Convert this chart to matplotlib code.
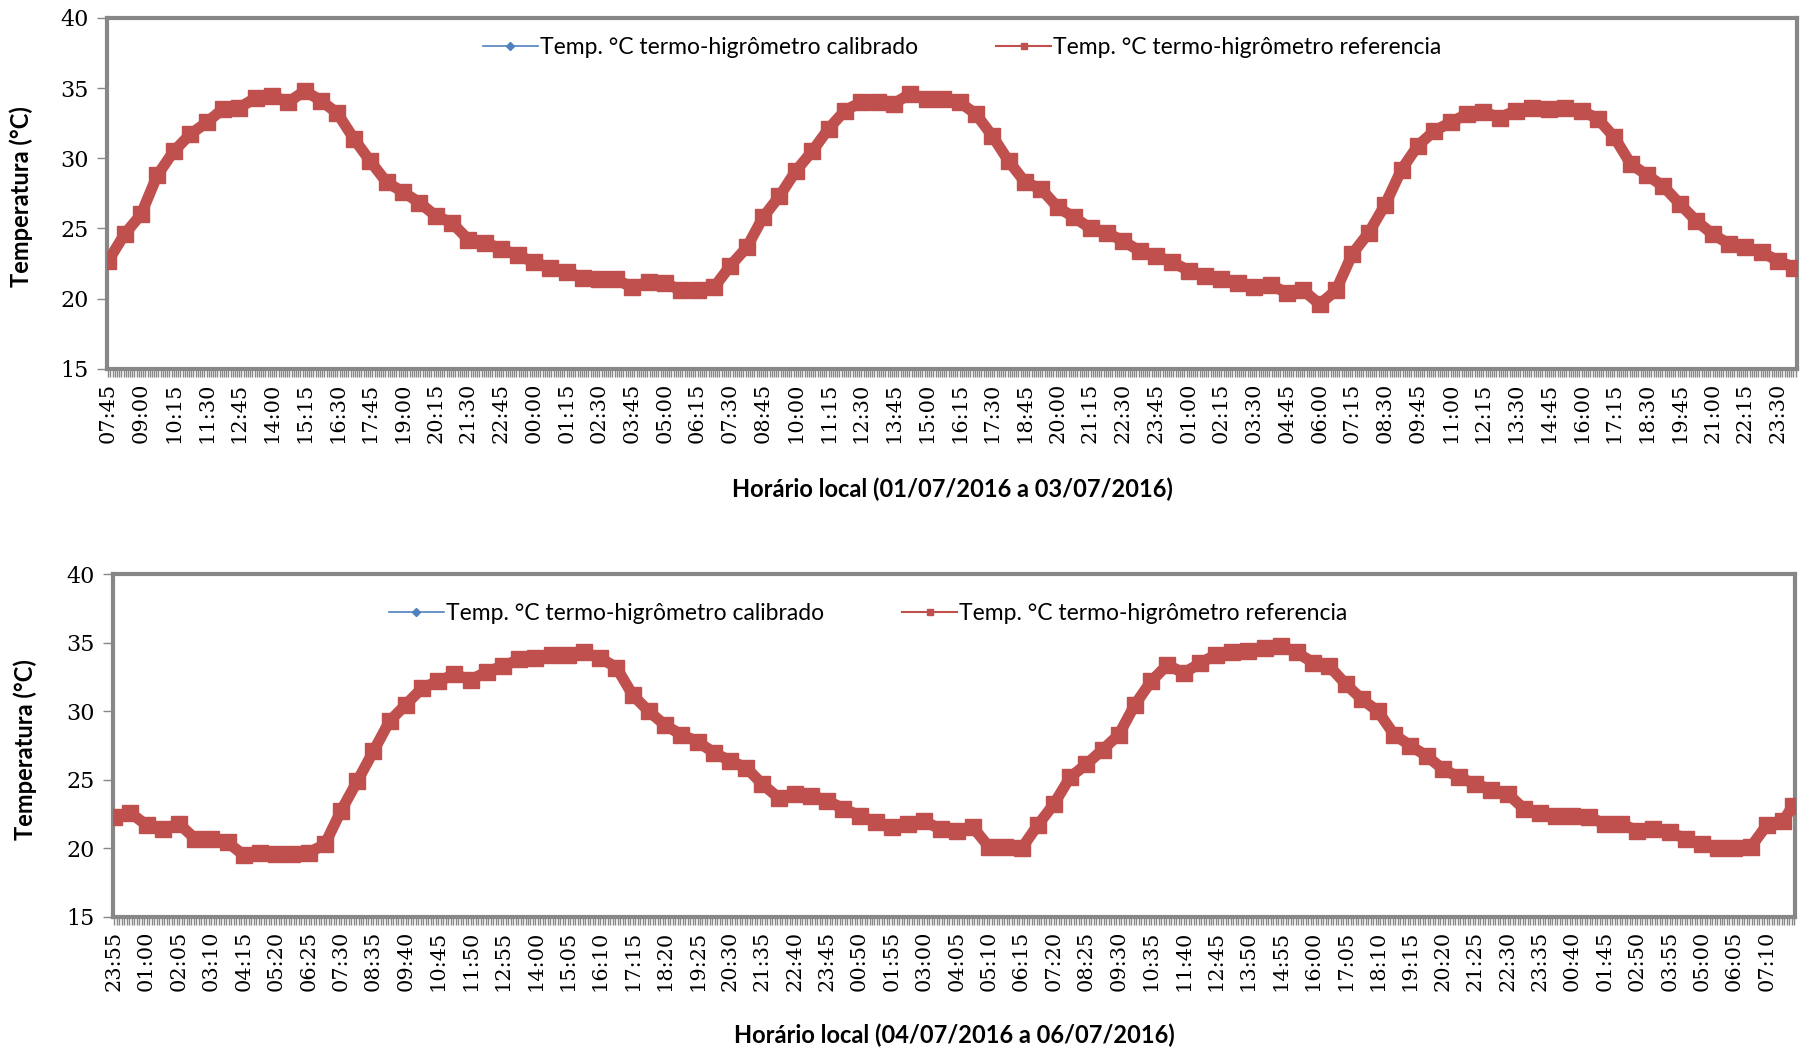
import numpy as np
import matplotlib.pyplot as plt
from matplotlib.lines import Line2D
from matplotlib.ticker import MultipleLocator

# ---- data (two readings per labelled interval) ----
# top panel: labels every 75 min, starting 07:45 on 01/07/2016
labels_top = ["07:45", "09:00", "10:15", "11:30", "12:45", "14:00", "15:15", "16:30", "17:45",
              "19:00", "20:15", "21:30", "22:45", "00:00", "01:15", "02:30", "03:45", "05:00",
              "06:15", "07:30", "08:45", "10:00", "11:15", "12:30", "13:45", "15:00", "16:15",
              "17:30", "18:45", "20:00", "21:15", "22:30", "23:45", "01:00", "02:15", "03:30",
              "04:45", "06:00", "07:15", "08:30", "09:45", "11:00", "12:15", "13:30", "14:45",
              "16:00", "17:15", "18:30", "19:45", "21:00", "22:15", "23:30"]
ref_top = [22.7, 24.6, 26.0, 28.8, 30.5, 31.7, 32.55, 33.5, 33.6, 34.3,
           34.45, 34.0, 34.8, 34.1, 33.2, 31.4, 29.8, 28.3, 27.6, 26.85,
           25.9, 25.4, 24.2, 24.0, 23.55, 23.1, 22.6, 22.2, 21.9, 21.5,
           21.4, 21.4, 20.8, 21.2, 21.1, 20.6, 20.6, 20.8, 22.35, 23.65,
           25.8, 27.3, 29.1, 30.5, 32.1, 33.4, 34.0, 34.0, 33.9, 34.6,
           34.2, 34.2, 34.0, 33.15, 31.6, 29.8, 28.3, 27.8, 26.5, 25.8,
           25.0, 24.7, 24.1, 23.4, 23.05, 22.6, 22.0, 21.6, 21.4, 21.15,
           20.8, 21.0, 20.4, 20.6, 19.6, 20.6, 23.2, 24.7, 26.7, 29.2,
           30.9, 31.95, 32.55, 33.15, 33.3, 32.9, 33.4, 33.6, 33.5, 33.6,
           33.4, 32.8, 31.5, 29.6, 28.8, 28.0, 26.75, 25.55, 24.6, 23.9,
           23.65, 23.3, 22.7, 22.2]
cal_top = list(ref_top)  # calibrated logger lies under the reference curve

# bottom panel: labels every 65 min, starting 23:55 on 04/07/2016
labels_bot = ["23:55", "01:00", "02:05", "03:10", "04:15", "05:20", "06:25", "07:30", "08:35",
              "09:40", "10:45", "11:50", "12:55", "14:00", "15:05", "16:10", "17:15", "18:20",
              "19:25", "20:30", "21:35", "22:40", "23:45", "00:50", "01:55", "03:00", "04:05",
              "05:10", "06:15", "07:20", "08:25", "09:30", "10:35", "11:40", "12:45", "13:50",
              "14:55", "16:00", "17:05", "18:10", "19:15", "20:20", "21:25", "22:30", "23:35",
              "00:40", "01:45", "02:50", "03:55", "05:00", "06:05", "07:10"]
ref_bot = [22.3, 22.6, 21.7, 21.4, 21.8, 20.7, 20.7, 20.45, 19.5, 19.7,
           19.6, 19.6, 19.7, 20.3, 22.75, 24.9, 27.1, 29.3, 30.5, 31.7,
           32.2, 32.7, 32.3, 32.9, 33.3, 33.8, 33.9, 34.15, 34.15, 34.3,
           33.9, 33.2, 31.2, 30.0, 29.0, 28.3, 27.8, 27.0, 26.4, 25.9,
           24.7, 23.7, 24.0, 23.85, 23.5, 22.9, 22.4, 21.9, 21.55, 21.8,
           22.0, 21.4, 21.3, 21.55, 20.1, 20.1, 20.0, 21.7, 23.25, 25.2,
           26.15, 27.2, 28.3, 30.5, 32.2, 33.4, 32.8, 33.5, 34.15, 34.3,
           34.4, 34.6, 34.8, 34.3, 33.55, 33.3, 32.0, 30.9, 30.0, 28.3,
           27.5, 26.75, 25.8, 25.2, 24.7, 24.3, 24.0, 22.9, 22.6, 22.4,
           22.4, 22.3, 21.8, 21.8, 21.3, 21.4, 21.2, 20.7, 20.3, 20.0,
           20.0, 20.1, 21.7, 22.0, 23.1]
cal_bot = list(ref_bot)

pos_top = np.arange(len(ref_top)) * 0.5
pos_bot = np.append(np.arange(len(ref_bot) - 1) * 0.5, 51.8)

xlabel_top = "Horário local (01/07/2016 a 03/07/2016)"
xlabel_bot = "Horário local (04/07/2016 a 06/07/2016)"
name_cal = "Temp. °C termo-higrômetro calibrado"
name_ref = "Temp. °C termo-higrômetro referencia"

RED = "#C0504D"
BLUE = "#4F81BD"
GREY = "#878787"

fig = plt.figure(figsize=(18.01, 10.51), dpi=100)
ax1 = fig.add_axes([0.0594, 0.649, 0.9384, 0.334])
ax2 = fig.add_axes([0.0627, 0.1275, 0.934, 0.326])


def draw_panel(ax, pos, cal, ref, labels, n_minor, xmax, xlabel, leg_x, leg_y, ylab_x):
    ax.plot(pos, cal, color=BLUE, lw=3, marker='D', ms=6, zorder=2)
    ax.plot(pos, ref, color=RED, lw=8, marker='s', ms=11, zorder=3)
    ax.set_ylim(15, 40)
    ax.set_xlim(-0.04, xmax)
    ax.set_yticks([15, 20, 25, 30, 35, 40])
    ax.set_xticks(np.arange(len(labels)))
    ax.set_xticklabels(labels, rotation=90, family='DejaVu Serif', fontsize=15)
    ax.xaxis.set_minor_locator(MultipleLocator(1.0 / n_minor))
    for lab in ax.get_yticklabels():
        lab.set_family('DejaVu Serif')
        lab.set_fontsize(16)
    ax.tick_params(axis='x', which='both', direction='out', length=6, width=1, color=GREY, pad=4)
    ax.tick_params(axis='y', direction='out', length=7, width=1, color=GREY, pad=6)
    for sp in ax.spines.values():
        sp.set_color(GREY)
        sp.set_linewidth(3)
    ax.set_ylabel("Temperatura (°C)", family='Lato', fontweight='bold', fontsize=17)
    ax.yaxis.set_label_coords(ylab_x, 0.49)
    ax.set_xlabel(xlabel, family='Lato', fontweight='bold', fontsize=17)
    ax.xaxis.set_label_coords(0.5, -0.31)
    h_cal = Line2D([], [], color=BLUE, lw=1.2, marker='D', ms=4)
    h_ref = Line2D([], [], color=RED, lw=1.5, marker='s', ms=5)
    ax.legend([h_cal, h_ref], [name_cal, name_ref], ncol=2, frameon=False,
              loc='center', bbox_to_anchor=(leg_x, leg_y), prop={'family': 'Lato', 'size': 16.5},
              handlelength=2.4, handletextpad=0.1, columnspacing=3.4)


draw_panel(ax1, pos_top, cal_top, ref_top, labels_top, 15, 51.58, xlabel_top, 0.506, 0.915, -0.044)
draw_panel(ax2, pos_bot, cal_bot, ref_bot, labels_bot, 13, 51.87, xlabel_bot, 0.449, 0.886, -0.045)

fig.savefig("out.png", dpi=100, facecolor='white')
